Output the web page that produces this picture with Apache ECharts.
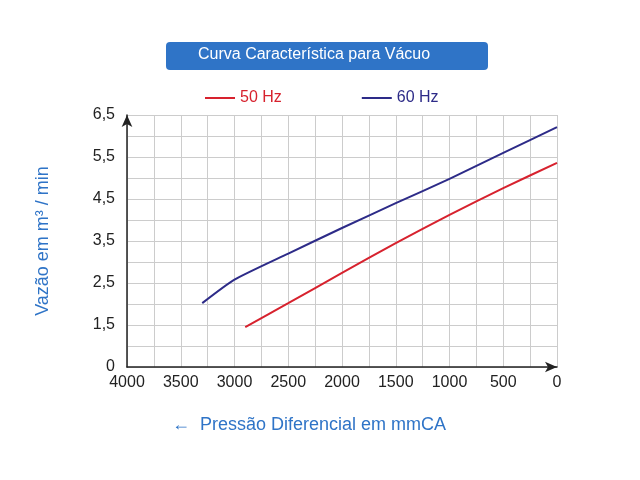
<!DOCTYPE html>
<html><head><meta charset="utf-8">
<script src="https://cdn.jsdelivr.net/npm/echarts@6/dist/echarts.min.js"></script>
<style>html,body{margin:0;background:#fff}#chart{width:640px;height:480px}</style>
</head><body><div id="chart"></div>
<script>
var chart = echarts.init(document.getElementById('chart'));

// pressure (mmCA) vs flow (m3/min)
var hz50 = [[2900, 1.45], [2500, 2.02], [2000, 2.74], [1500, 3.45], [1000, 4.12], [500, 4.76], [0, 5.36]];
var hz60 = [[3300, 2.02], [3000, 2.58], [2500, 3.2], [2000, 3.81], [1500, 4.4], [1000, 4.98], [500, 5.6], [0, 6.21]];

var option = {
  graphic: [
    { type: 'rect', left: 166, top: 42, shape: { width: 322, height: 28, r: 4 }, style: { fill: '#2f74c7' } },
    { type: 'text', left: 198, top: 47, style: { text: 'Curva Característica para Vácuo', fill: '#fff', font: '16px Arial' } },
    { type: 'text', left: 172, top: 416, style: { text: '←  Pressão Diferencial em mmCA', fill: '#2f74c7', font: '18px Arial' } }
  ],
  legend: {
    top: 85, left: 200, itemGap: 80, itemWidth: 30, itemHeight: 2,
    icon: 'rect',
    textStyle: { fontSize: 16, fontFamily: 'Arial' },
    data: [
      { name: '50 Hz', textStyle: { color: '#d7222e' } },
      { name: '60 Hz', textStyle: { color: '#2d2b88' } }
    ]
  },
  grid: { left: 127, right: 83, top: 115, bottom: 113 },
  xAxis: {
    type: 'value', inverse: true, min: 0, max: 4000, interval: 250,
    axisLine: { onZero: false, lineStyle: { color: '#222', width: 1.5 }, symbol: ['none', 'arrow'], symbolSize: [8, 12] },
    axisTick: { show: false },
    splitLine: { lineStyle: { color: '#ccc' } },
    axisLabel: { color: '#222', fontSize: 16, fontFamily: 'Arial', formatter: function (v) { return v % 500 === 0 ? v : ''; } }
  },
  yAxis: {
    type: 'value', min: 0.5, max: 6.5, interval: 0.5, position: 'left',
    name: 'Vazão em m³ / min', nameLocation: 'middle', nameGap: 75,
    nameTextStyle: { color: '#2f74c7', fontSize: 18, fontFamily: 'Arial' },
    axisLine: { show: true, onZero: false, lineStyle: { color: '#222', width: 1.5 }, symbol: ['none', 'arrow'], symbolSize: [8, 12] },
    axisTick: { show: false },
    splitLine: { lineStyle: { color: '#ccc' } },
    axisLabel: {
      color: '#222', fontSize: 16, fontFamily: 'Arial', margin: 12,
      formatter: function (v) {
        if (v === 0.5) return '0';
        return (Math.round(v * 10) % 10 === 5) ? String(v).replace('.', ',') : '';
      }
    }
  },
  series: [
    { name: '50 Hz', type: 'line', data: hz50, smooth: 0.2, symbol: 'none', lineStyle: { color: '#d7222e', width: 2 }, itemStyle: { color: '#d7222e' } },
    { name: '60 Hz', type: 'line', data: hz60, smooth: 0.2, symbol: 'none', lineStyle: { color: '#2d2b88', width: 2 }, itemStyle: { color: '#2d2b88' } }
  ]
};

chart.setOption(option);
</script></body></html>
